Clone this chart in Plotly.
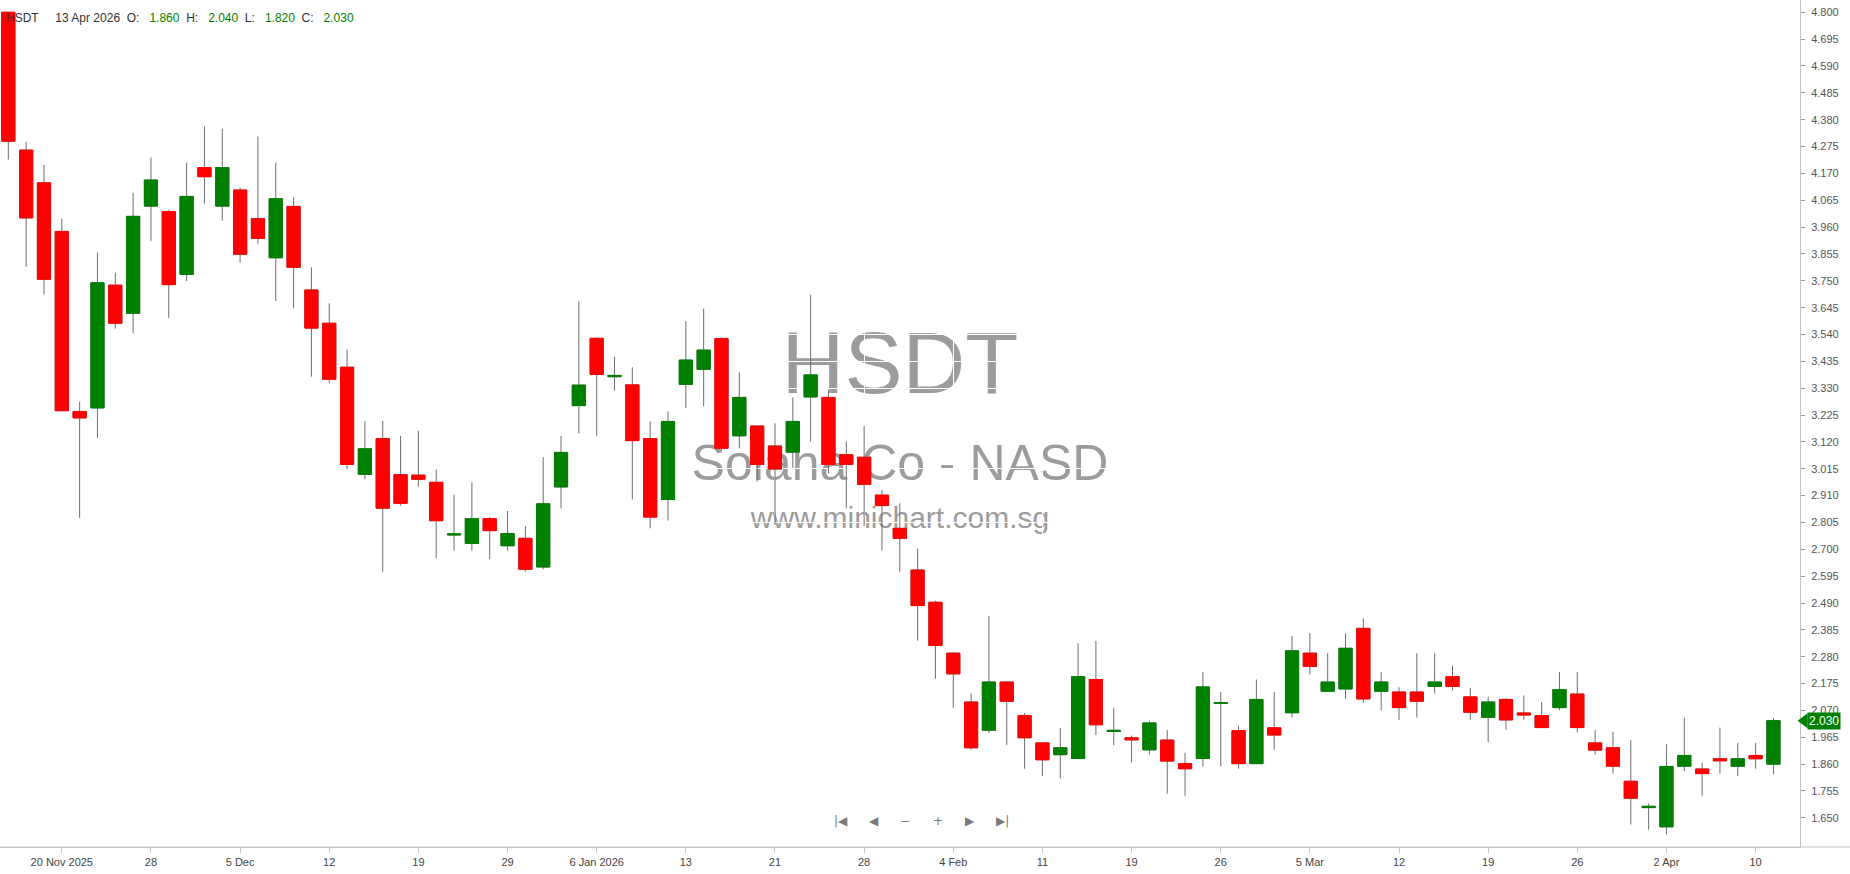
import pandas as pd
import plotly.graph_objects as go

# ---------------- data ----------------
symbol = "HSDT"
company = "Solana Co - NASD"
site = "www.minichart.com.sg"

holidays = ["2025-11-27", "2025-12-25", "2026-01-01", "2026-01-19", "2026-02-16", "2026-04-03"]
dates = [d.strftime("%Y-%m-%d") for d in pd.bdate_range("2025-11-17", "2026-04-13")
         if d.strftime("%Y-%m-%d") not in holidays]

open_ = [4.800, 4.261, 4.133, 3.943, 3.239, 3.253, 3.733, 3.623, 4.042, 4.021,
         3.775, 4.193, 4.042, 4.105, 3.993, 3.840, 4.041, 3.714, 3.584, 3.412,
         2.993, 3.133, 2.992, 2.990, 2.962, 2.756, 2.723, 2.820, 2.714, 2.743,
         2.631, 2.944, 3.262, 3.525, 3.375, 3.343, 3.133, 2.895, 3.345, 3.404,
         3.524, 3.144, 3.182, 3.104, 3.080, 3.296, 3.294, 3.070, 3.060, 2.912,
         2.782, 2.619, 2.493, 2.294, 2.103, 1.993, 2.181, 2.050, 1.943, 1.897,
         1.882, 2.191, 1.988, 1.963, 1.916, 1.954, 1.862, 1.882, 2.097, 1.991,
         1.862, 2.002, 2.061, 2.294, 2.145, 2.154, 2.391, 2.145, 2.142, 2.142,
         2.164, 2.202, 2.123, 2.043, 2.113, 2.060, 2.050, 2.081, 2.134, 1.943,
         1.924, 1.793, 1.690, 1.615, 1.852, 1.841, 1.881, 1.852, 1.894, 1.860]
high = [4.800, 4.294, 4.203, 3.993, 3.277, 3.861, 3.782, 4.094, 4.232, 4.027,
        4.212, 4.354, 4.345, 4.115, 4.314, 4.212, 4.077, 3.803, 3.662, 3.481,
        3.202, 3.202, 3.143, 3.163, 3.013, 2.914, 2.962, 2.827, 2.850, 2.791,
        3.061, 3.143, 3.670, 3.529, 3.453, 3.412, 3.200, 3.240, 3.592, 3.641,
        3.529, 3.392, 3.186, 3.193, 3.294, 3.695, 3.323, 3.122, 3.182, 2.932,
        2.880, 2.703, 2.499, 2.297, 2.136, 2.439, 2.184, 2.060, 1.947, 2.002,
        2.333, 2.342, 2.080, 1.972, 2.030, 1.993, 1.904, 2.220, 2.142, 2.011,
        2.191, 2.142, 2.361, 2.372, 2.294, 2.372, 2.430, 2.220, 2.161, 2.294,
        2.294, 2.246, 2.158, 2.123, 2.118, 2.129, 2.103, 2.220, 2.220, 1.993,
        1.987, 1.954, 1.706, 1.938, 2.042, 1.866, 2.003, 1.943, 1.943, 2.040]
low = [4.224, 3.805, 3.696, 3.242, 2.823, 3.134, 3.563, 3.545, 3.905, 3.605,
       3.749, 4.052, 3.985, 3.821, 3.895, 3.671, 3.643, 3.375, 3.349, 3.013,
       2.974, 2.612, 2.871, 2.945, 2.665, 2.695, 2.695, 2.661, 2.695, 2.612,
       2.622, 2.860, 3.153, 3.144, 3.320, 2.895, 2.782, 2.812, 3.253, 3.260,
       3.085, 3.095, 2.965, 2.795, 3.019, 3.121, 2.997, 2.860, 2.792, 2.695,
       2.612, 2.343, 2.194, 2.080, 1.917, 1.982, 1.934, 1.842, 1.814, 1.804,
       1.882, 1.974, 1.934, 1.866, 1.897, 1.745, 1.736, 1.852, 1.852, 1.842,
       1.862, 1.916, 2.042, 2.211, 2.145, 2.115, 2.100, 2.071, 2.033, 2.042,
       2.136, 2.148, 2.033, 1.946, 1.994, 2.033, 2.003, 2.071, 1.984, 1.897,
       1.823, 1.624, 1.604, 1.585, 1.833, 1.736, 1.823, 1.814, 1.842, 1.820]
close = [4.296, 3.996, 3.756, 3.242, 3.214, 3.742, 3.584, 4.002, 4.144, 3.735,
         4.080, 4.157, 4.193, 3.854, 3.916, 4.071, 3.803, 3.565, 3.365, 3.032,
         3.093, 2.861, 2.880, 2.974, 2.812, 2.760, 2.820, 2.773, 2.762, 2.622,
         2.878, 3.079, 3.342, 3.384, 3.380, 3.125, 2.826, 3.200, 3.440, 3.479,
         3.095, 3.294, 3.032, 3.014, 3.200, 3.382, 3.032, 3.032, 2.954, 2.871,
         2.743, 2.480, 2.324, 2.213, 1.924, 2.181, 2.106, 1.963, 1.877, 1.924,
         2.202, 2.014, 1.992, 1.955, 2.021, 1.872, 1.842, 2.162, 2.101, 1.862,
         2.113, 1.974, 2.303, 2.242, 2.181, 2.313, 2.115, 2.181, 2.081, 2.106,
         2.181, 2.164, 2.063, 2.103, 2.033, 2.052, 2.003, 2.152, 2.003, 1.915,
         1.852, 1.727, 1.695, 1.851, 1.894, 1.823, 1.873, 1.881, 1.881, 2.030]

tick_dates = ["2025-11-20", "2025-11-28", "2025-12-05", "2025-12-12", "2025-12-19",
              "2025-12-29", "2026-01-06", "2026-01-13", "2026-01-21", "2026-01-28",
              "2026-02-04", "2026-02-11", "2026-02-19", "2026-02-26", "2026-03-05",
              "2026-03-12", "2026-03-19", "2026-03-26", "2026-04-02", "2026-04-10"]
tick_text = ["20 Nov 2025", "28", "5 Dec", "12", "19", "29", "6 Jan 2026", "13", "21", "28",
             "4 Feb", "11", "19", "26", "5 Mar", "12", "19", "26", "2 Apr", "10"]
y_ticks = [1.650, 1.755, 1.860, 1.965, 2.070, 2.175, 2.280, 2.385, 2.490, 2.595, 2.700,
           2.805, 2.910, 3.015, 3.120, 3.225, 3.330, 3.435, 3.540, 3.645, 3.750, 3.855,
           3.960, 4.065, 4.170, 4.275, 4.380, 4.485, 4.590, 4.695, 4.800]

# ---------------- styling ----------------
GREEN = "#008000"
RED = "#ff0000"
WICK = "#6e6e6e"
AXIS = "#c4c4c4"
FONT = "Liberation Sans, Arial, sans-serif"
Y_RANGE = [1.536, 4.848]
X_RANGE = [-0.466, 100.49]

body_hi = [max(o, c) for o, c in zip(open_, close)]
body_lo = [min(o, c) for o, c in zip(open_, close)]

fig = go.Figure()
# wicks (gray)
fig.add_trace(go.Candlestick(
    x=dates, open=open_, high=high, low=low, close=close,
    increasing=dict(line=dict(color=WICK, width=1), fillcolor=WICK),
    decreasing=dict(line=dict(color=WICK, width=1), fillcolor=WICK),
    hoverinfo="skip", showlegend=False))
# coloured bodies
fig.add_trace(go.Candlestick(
    x=dates, open=open_, high=body_hi, low=body_lo, close=close,
    increasing=dict(line=dict(color=GREEN, width=1), fillcolor=GREEN),
    decreasing=dict(line=dict(color=RED, width=1), fillcolor=RED),
    showlegend=False))

nb = "\u00a0"
last_date = pd.Timestamp(dates[-1]).strftime("%-d %b %Y")
vc = GREEN if close[-1] >= open_[-1] else RED
header = (f"<span style='color:#333333'>{symbol}</span>{nb*5}"
          f"<span style='color:#333333'>{last_date}</span>{nb*2}"
          f"<span style='color:#333333'>O:</span>{nb*3}<span style='color:{vc}'>{open_[-1]:.3f}</span>{nb*2}"
          f"<span style='color:#333333'>H:</span>{nb*3}<span style='color:{vc}'>{high[-1]:.3f}</span>{nb*2}"
          f"<span style='color:#333333'>L:</span>{nb*3}<span style='color:{vc}'>{low[-1]:.3f}</span>{nb*2}"
          f"<span style='color:#333333'>C:</span>{nb*3}<span style='color:{vc}'>{close[-1]:.3f}</span>")

annotations = [
    dict(text=header, xref="paper", yref="paper", x=0, y=1, xanchor="left", yanchor="top",
         xshift=4, yshift=-9, showarrow=False, font=dict(family=FONT, size=12, color="#333333")),
    dict(text=f"{close[-1]:.3f}", xref="paper", yref="y", x=1, y=close[-1], xanchor="left",
         yanchor="middle", xshift=7, showarrow=False, bgcolor=vc, borderpad=1,
         font=dict(family=FONT, size=12, color="white")),
]
# navigation controls
nav = [("|\u25C0", 0.467), ("\u25C0", 0.4856), ("\u2212", 0.503), ("+", 0.521), ("\u25B6", 0.539), ("\u25B6|", 0.557)]
for t, xp in nav:
    annotations.append(dict(text=t, xref="paper", yref="paper", x=xp, y=0.02, showarrow=False,
                            font=dict(family="DejaVu Sans", size=12, color="#7a7a7a")))

# last price badge arrow tip
yp = (close[-1] - Y_RANGE[0]) / (Y_RANGE[1] - Y_RANGE[0])
h = 7.5 / 847
w = 8 / 1800
shapes = [
    dict(type="path", xref="paper", yref="paper",
         path=f"M {1.0 - w*0.3},{yp} L {1.0 + w*0.95},{yp + h} L {1.0 + w*0.95},{yp - h} Z",
         fillcolor=vc, line=dict(width=0), layer="above"),
    dict(type="line", xref="paper", yref="paper", x0=0, x1=1.03, y0=0, y1=0,
         line=dict(color=AXIS, width=1), layer="above"),
]
# watermark
for txt, yc, size, hh in [(symbol, 0.582, 87, 0.12), (company, 0.459, 50, 0.07), (site, 0.392, 30, 0.05)]:
    shapes.append(dict(type="rect", xref="paper", yref="paper", x0=0.2, x1=0.8,
                       y0=yc - hh / 2, y1=yc + hh / 2, line=dict(width=0),
                       fillcolor="rgba(0,0,0,0)", layer="below",
                       label=dict(text=txt, textposition="middle center",
                                  font=dict(family=FONT, size=size, color="#9c9c9c"))))

fig.update_layout(
    width=1850, height=874,
    margin=dict(l=0, r=50, t=0, b=27),
    paper_bgcolor="white", plot_bgcolor="white",
    showlegend=False,
    boxgap=0.26, boxgroupgap=0,
    annotations=annotations, shapes=shapes,
    xaxis=dict(type="category", range=X_RANGE, rangeslider=dict(visible=False),
               tickmode="array", tickvals=tick_dates, ticktext=tick_text,
               showgrid=True, gridcolor="white", gridwidth=1,
               showline=True, linecolor=AXIS, linewidth=1,
               ticks="outside", ticklen=5, tickcolor=AXIS,
               tickfont=dict(family=FONT, size=11, color="#444444"), fixedrange=True),
    yaxis=dict(side="right", range=Y_RANGE, tickmode="array", tickvals=y_ticks,
               tickformat=".3f", showgrid=True, gridcolor="white", gridwidth=1,
               zeroline=False, showline=True, linecolor=AXIS, linewidth=1,
               ticks="outside", ticklen=4, tickcolor="#999999", ticklabelstandoff=4,
               tickfont=dict(family=FONT, size=11, color="#555555"), fixedrange=True),
)

fig.write_html("out.html", config={"displayModeBar": False},
               post_script="document.body.style.margin='0';document.body.style.overflow='hidden';")
